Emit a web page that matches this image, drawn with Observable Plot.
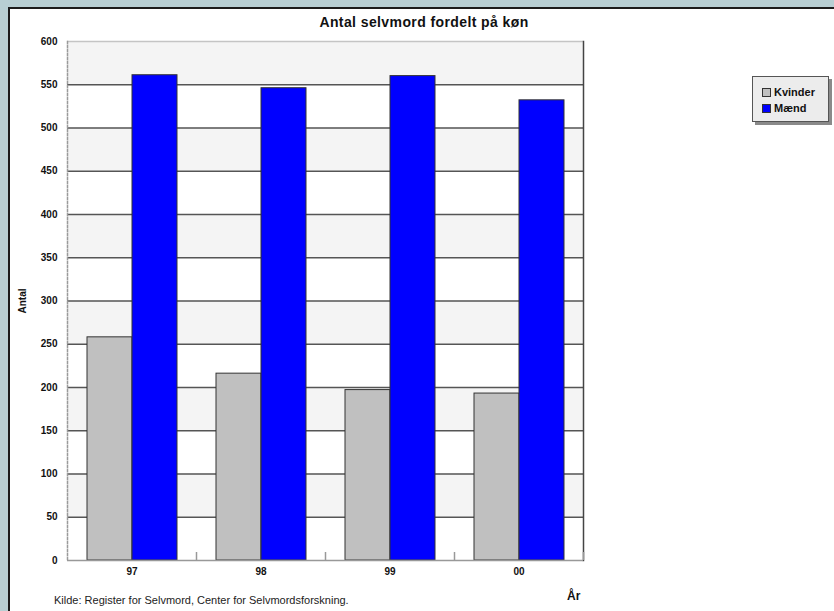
<!DOCTYPE html>
<html lang="da">
<head>
<meta charset="utf-8">
<script src="https://cdn.jsdelivr.net/npm/d3@7"></script>
<script src="https://cdn.jsdelivr.net/npm/@observablehq/plot@0.6"></script>
<style>
  html, body { margin: 0; padding: 0; }
  body {
    width: 834px; height: 611px; overflow: hidden; position: relative;
    background: #b8cfd3;
    font-family: "Liberation Sans", Arial, sans-serif;
  }
  #panel {
    position: absolute; left: 8px; top: 7px; width: 830px; height: 610px;
    background: #fff;
    border-left: 2px solid #1c1c1c; border-top: 2px solid #1c1c1c;
  }
  #chart { position: absolute; left: 0; top: 0; }
  #title {
    position: absolute; left: 304px; width: 240px; top: 14px;
    text-align: center; font-size: 14px; font-weight: bold; color: #111;
    letter-spacing: 0.4px; white-space: nowrap;
  }
  #legend {
    position: absolute; left: 752px; top: 76px; width: 75px; height: 44px;
    background: #ececec; border: 1px solid #555;
    box-shadow: 3px 3px 0 #8a8a8a;
    font-size: 11px; font-weight: bold; color: #111;
  }
  #legend .row { position: absolute; left: 9px; height: 12px; line-height: 12px; white-space: nowrap; }
  #legend .sw {
    display: inline-block; width: 7px; height: 7px; border: 1px solid #333;
    vertical-align: -1px; margin-right: 3px;
  }
  #xlabel {
    position: absolute; left: 567px; top: 589px;
    font-size: 12px; font-weight: bold; color: #111;
  }
  #source {
    position: absolute; left: 54px; top: 594px;
    font-size: 11px; color: #222; white-space: nowrap;
  }
</style>
</head>
<body>
<div id="panel"></div>
<div id="chart"></div>
<div id="title">Antal selvmord fordelt på køn</div>
<div id="legend"></div>
<div id="xlabel">År</div>
<div id="source">Kilde: Register for Selvmord, Center for Selvmordsforskning.</div>
<script>
// Antal selvmord pr. år, fordelt på køn
const years = ["97", "98", "99", "00"];
const genders = ["Kvinder", "Mænd"];
const kvinder = [258, 216, 197, 193];
const maend = [561, 546, 560, 532];
const colors = ["#c0c0c0", "#0000ff"];
const yTicks = [0, 50, 100, 150, 200, 250, 300, 350, 400, 450, 500, 550, 600];

const data = years.flatMap((year, i) => [
  {year, gender: genders[0], value: kvinder[i]},
  {year, gender: genders[1], value: maend[i]}
]);

// alternating shaded bands between gridlines
const bands = yTicks.filter((t, i) => i % 2 === 1 && t < 600);
const grid = yTicks.filter(t => t > 0 && t < 600);

const chart = Plot.plot({
  width: 834,
  height: 611,
  marginLeft: 67,
  marginRight: 251,
  marginTop: 41,
  marginBottom: 51,
  style: {background: "transparent", fontFamily: "'Liberation Sans', Arial, sans-serif", color: "#111"},
  fx: {domain: years, padding: 0},
  x: {domain: genders, paddingInner: 0, paddingOuter: 0.4333, axis: null},
  y: {domain: [0, 600]},
  color: {domain: genders, range: colors},
  marks: [
    Plot.rectY(bands, {y1: d => d, y2: d => d + 50, fill: "#f4f4f4"}),
    Plot.ruleY([600], {stroke: "#c4c4c4", strokeWidth: 1.5}),
    Plot.ruleY(grid, {stroke: "#555", strokeWidth: 1.5}),
    Plot.frame({anchor: "left", facetAnchor: "left", stroke: "#9a9a9a", strokeDasharray: "2,2", strokeWidth: 1.5}),
    Plot.frame({anchor: "right", facetAnchor: "right", stroke: "#444", strokeWidth: 1.5}),
    Plot.barY(data, {fx: "year", x: "gender", y: "value", fill: "gender", stroke: "#333", strokeWidth: 1}),
    Plot.ruleY([0], {stroke: "#999", strokeWidth: 1.5}),
    // small marks at the category boundaries along the bottom axis
    Plot.axisFx({anchor: "bottom", text: null, label: null, tickSize: -8, dx: 64.5, stroke: "#999", strokeWidth: 1.5}),
    Plot.axisFx({anchor: "bottom", tickSize: 0, tickPadding: 7, fontSize: 10, fontWeight: "bold", label: null}),
    Plot.axisY({ticks: yTicks, tickSize: 0, tickPadding: 10, fontSize: 10, fontWeight: "bold",
                label: "Antal", labelAnchor: "center", labelOffset: 49, labelArrow: "none"})
  ]
});
document.getElementById("chart").appendChild(chart);

// legend
const legend = document.getElementById("legend");
genders.forEach((g, i) => {
  const row = document.createElement("div");
  row.className = "row";
  row.style.top = (9 + i * 16) + "px";
  const sw = document.createElement("span");
  sw.className = "sw";
  sw.style.background = colors[i];
  row.appendChild(sw);
  row.appendChild(document.createTextNode(g));
  legend.appendChild(row);
});
</script>
</body>
</html>
